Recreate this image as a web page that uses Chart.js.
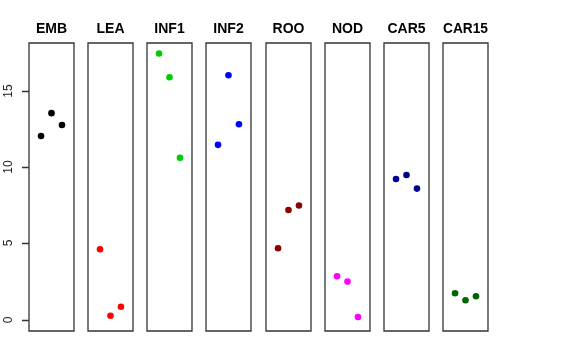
<!DOCTYPE html>
<html>
<head>
<meta charset="utf-8">
<script src="https://cdn.jsdelivr.net/npm/chart.js@4.4.1/dist/chart.umd.min.js"></script>
<style>
  body { margin: 0; background: #fff; }
  #wrap { position: relative; width: 576px; height: 360px; overflow: hidden; }
  #wrap canvas { position: absolute; top: 0; }
</style>
</head>
<body>
<div id="wrap"></div>
<script>
// tissues, one panel each
const tissues = ['EMB', 'LEA', 'INF1', 'INF2', 'ROO', 'NOD', 'CAR5', 'CAR15'];
const colors = ['#000000', '#FF0000', '#00CD00', '#0000FF', '#8B0000', '#FF00FF', '#00008B', '#006400'];

// three replicates per tissue (left, middle, right point)
const rep1 = [12.03, 4.62, 17.42, 11.45, 4.69, 2.86, 9.22, 1.75];
const rep2 = [13.52, 0.28, 15.87, 16.00, 7.19, 2.51, 9.48, 1.29];
const rep3 = [12.75, 0.87, 10.60, 12.80, 7.48, 0.20, 8.59, 1.55];

const yTicks = [0, 5, 10, 15];

const wrap = document.getElementById('wrap');

// box around each panel, plus y tick marks on the first one
const boxPlugin = {
  id: 'box',
  afterDraw(chart) {
    const a = chart.chartArea;
    const ctx = chart.ctx;
    const l = Math.round(a.left), t = Math.round(a.top);
    const r = Math.round(a.right), b = Math.round(a.bottom);
    ctx.save();
    ctx.strokeStyle = '#333';
    ctx.lineWidth = 1.3;
    ctx.beginPath();
    ctx.rect(l, t, r - l, b - t);
    if (chart.options.scales.y.display) {
      const scale = chart.scales.y;
      yTicks.forEach(v => {
        const y = Math.round(scale.getPixelForValue(v)) + 0.5;
        ctx.moveTo(l - 7, y);
        ctx.lineTo(l, y);
      });
    }
    ctx.stroke();
    ctx.restore();
  }
};

// vertical tick labels, reading bottom to top like R
const yLabelPlugin = {
  id: 'ylabels',
  afterDraw(chart) {
    const scale = chart.scales.y;
    const left = Math.round(chart.chartArea.left);
    const ctx = chart.ctx;
    ctx.save();
    ctx.fillStyle = '#222';
    ctx.font = '12px "Liberation Sans", Arial, sans-serif';
    ctx.textAlign = 'center';
    ctx.textBaseline = 'alphabetic';
    yTicks.forEach(v => {
      const y = Math.round(scale.getPixelForValue(v));
      ctx.save();
      ctx.translate(left - 17.5, y);
      ctx.rotate(-Math.PI / 2);
      ctx.fillText(String(v), 0, 0);
      ctx.restore();
    });
    ctx.restore();
  }
};

tissues.forEach((name, i) => {
  const first = i === 0;
  const panelLeft = 29 + i * 59.14;
  const cv = document.createElement('canvas');
  const w = first ? 84 : 65;
  cv.width = w;
  cv.height = 360;
  cv.style.left = (first ? 0 : Math.round(panelLeft) - 10) + 'px';
  wrap.appendChild(cv);

  const yScale = {
    type: 'linear',
    min: -0.72,
    max: 18.12,
    display: first,
    border: { display: false },
    grid: { display: false },
    ticks: { display: false }
  };
  if (first) yScale.afterFit = scale => { scale.width = 29; };

  new Chart(cv, {
    type: 'scatter',
    data: {
      datasets: [{
        data: [
          { x: -1, y: rep1[i] },
          { x: 0, y: rep2[i] },
          { x: 1, y: rep3[i] }
        ],
        backgroundColor: colors[i],
        borderWidth: 0,
        pointRadius: 3.3
      }]
    },
    options: {
      responsive: false,
      animation: false,
      layout: { padding: { left: first ? 0 : 10, right: 10, top: 0, bottom: 29 } },
      plugins: {
        legend: { display: false },
        tooltip: { enabled: false },
        title: {
          display: true,
          text: name,
          fullSize: false,
          color: '#000',
          font: { family: 'Liberation Sans, Arial, sans-serif', size: 14, weight: 'bold' },
          padding: { top: 21, bottom: 5 }
        }
      },
      scales: {
        x: { type: 'linear', min: -2.15, max: 2.15, display: false },
        y: yScale
      }
    },
    plugins: first ? [boxPlugin, yLabelPlugin] : [boxPlugin]
  });
});
</script>
</body>
</html>
